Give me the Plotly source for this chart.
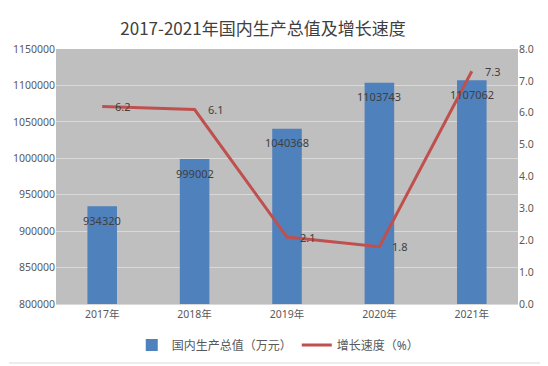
import plotly.graph_objects as go

years = ["2017年", "2018年", "2019年", "2020年", "2021年"]
gdp = [934320, 999002, 1040368, 1103743, 1107062]
growth = [6.2, 6.1, 2.1, 1.8, 7.3]
growth_labels = ["6.2", "6.1", "2.1", "1.8", "7.3"]

# page body adds an 8px offset; figure is sized so that the plot lands where the reference has it
OFF = 8
W, H = 548 - OFF, 366 - OFF
L, R, T, B = 56 - OFF, 30, 49 - OFF, 62
pw, ph = W - L - R, H - T - B

fig = go.Figure()
fig.add_trace(go.Bar(
    x=years, y=gdp, name="国内生产总值（万元）",
    marker=dict(color="#4F81BD", line=dict(width=0)),
    width=0.32,
))
fig.add_trace(go.Scatter(
    x=years, y=growth, name="增长速度（%）", yaxis="y2",
    mode="lines", line=dict(color="#C0504D", width=3),
))

annotations = []
for yr, v in zip(years, gdp):
    annotations.append(dict(x=yr, y=v, xref="x", yref="y", text=str(v), showarrow=False,
                            xanchor="center", yanchor="middle", yshift=-14,
                            font=dict(color="#404040", size=11)))
for yr, v, t in zip(years, growth, growth_labels):
    annotations.append(dict(x=yr, y=v, xref="x", yref="y2", text=t, showarrow=False,
                            xanchor="left", yanchor="middle", xshift=11,
                            font=dict(color="#404040", size=11)))

fig.update_layout(
    width=W, height=H,
    margin=dict(l=L, r=R, t=T, b=B, autoexpand=False),
    paper_bgcolor="white", plot_bgcolor="#BFBFBF",
    font=dict(family="'Noto Sans', 'Noto Sans CJK SC', sans-serif", color="#595959", size=11),
    title=dict(text="2017-2021年国内生产总值及增长速度", x=(263 - OFF) / W, xanchor="center",
               y=1 - (29 - OFF) / H, yanchor="middle", automargin=False,
               font=dict(size=17, color="#404040", family="'Noto Sans CJK SC', serif")),
    xaxis=dict(showgrid=False, showline=True, linecolor="#D9D9D9", ticks="", automargin=False,
               tickfont=dict(size=10.5, color="#595959")),
    yaxis=dict(range=[800000, 1150000], dtick=50000, showgrid=True, gridcolor="#D9D9D9",
               gridwidth=1, zeroline=False, ticks="", tickformat="d", automargin=False,
               tickfont=dict(size=10.5, color="#595959")),
    yaxis2=dict(range=[0, 8], dtick=1, overlaying="y", side="right", showgrid=False,
                zeroline=False, tickformat=".1f", ticks="", automargin=False,
                tickfont=dict(size=10.5, color="#595959")),
    legend=dict(orientation="h", x=0.48, xanchor="center", y=-(345 - 304) / ph,
                yanchor="middle", font=dict(size=12, color="#595959"),
                itemwidth=30, bgcolor="rgba(0,0,0,0)"),
    showlegend=True,
    annotations=annotations,
    shapes=[dict(type="line", xref="paper", yref="paper",
                 x0=(545 - 56) / pw, x1=(545 - 56) / pw,
                 y0=(304 - 363) / ph, y1=(304 - 9) / ph,
                 line=dict(color="#D9D9D9", width=1), layer="below"),
            dict(type="line", xref="paper", yref="paper",
                 x0=(9 - 56) / pw, x1=(545 - 56) / pw,
                 y0=(304 - 363) / ph, y1=(304 - 363) / ph,
                 line=dict(color="#D9D9D9", width=1), layer="below")],
)

fig.write_html("out.html")
